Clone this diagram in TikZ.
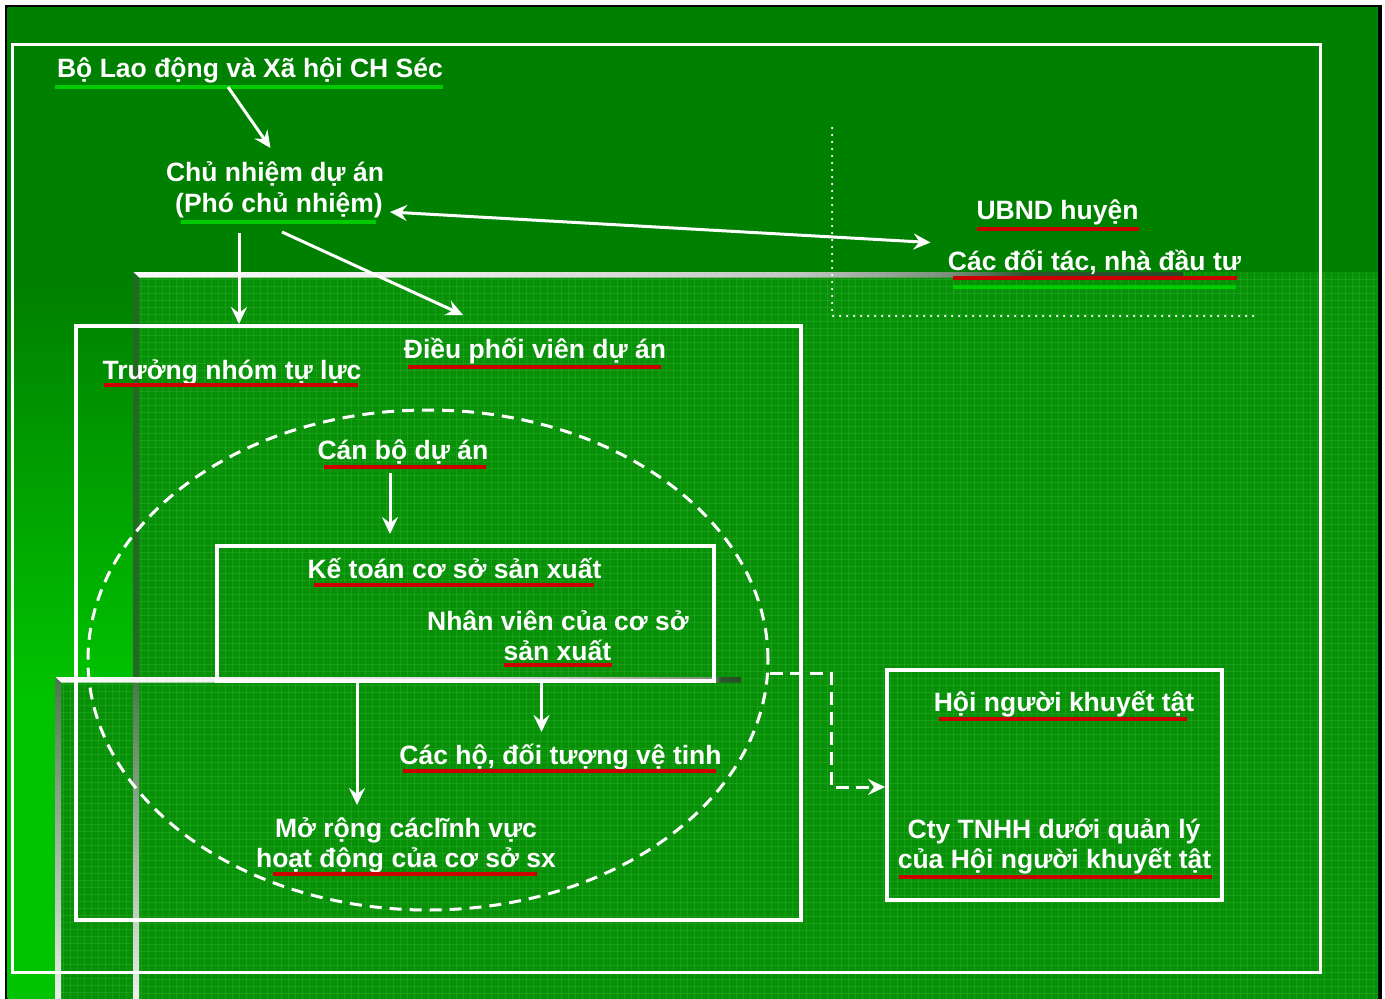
\documentclass[tikz,border=0pt]{standalone}
\usepackage{fontspec}
\setmainfont{Liberation Sans}
\usetikzlibrary{arrows.meta,shapes.geometric,calc}
\definecolor{bgtop}{RGB}{0,128,0}
\definecolor{bgbot}{RGB}{0,196,0}
\definecolor{texfill}{RGB}{8,144,8}
\definecolor{texline}{RGB}{50,185,50}
\definecolor{ulred}{RGB}{204,0,0}
\definecolor{ulgreen}{RGB}{0,204,0}
\definecolor{edgeone}{RGB}{35,105,35}
\definecolor{edgetop}{RGB}{75,120,75}
\definecolor{edgebot}{RGB}{235,240,235}
\definecolor{bwa}{RGB}{250,250,250}
\definecolor{bwb}{RGB}{235,236,235}
\definecolor{bwc}{RGB}{195,200,195}
\definecolor{bwd}{RGB}{120,140,120}
\definecolor{bwe}{RGB}{45,85,45}
\definecolor{bwf}{RGB}{38,78,38}
\pgfdeclareverticalshading{bgshade}{100bp}{color(0bp)=(bgbot); color(25bp)=(bgbot); color(40bp)=(bgbot); color(61bp)=(bgtop); color(75bp)=(bgtop); color(100bp)=(bgtop)}
\pgfdeclarehorizontalshading{bandone}{100bp}{color(0bp)=(bwa); color(25bp)=(bwa); color(40bp)=(bwb); color(56.5bp)=(bwc); color(64bp)=(bwd); color(67.5bp)=(bwe); color(75bp)=(bwf); color(100bp)=(bwf)}
\pgfdeclarehorizontalshading{bandtwo}{100bp}{color(0bp)=(bwa); color(25bp)=(bwa); color(45bp)=(bwb); color(62.5bp)=(bwc); color(73bp)=(bwd); color(73.5bp)=(bwe); color(75bp)=(bwf); color(100bp)=(bwf)}
\begin{document}
\begin{tikzpicture}[x=1pt,y=-1pt,
  txt/.style={text=white, font=\bfseries\fontsize{26.5}{31}\selectfont, inner sep=0pt, anchor=base},
  boxnode/.style={draw=white, line width=4pt, inner sep=0pt},
  ellnode/.style={draw=white, line width=3pt, ellipse, inner sep=0pt, dash pattern=on 12pt off 8pt},
  arr/.style={draw=white, line width=3pt, -{Stealth[length=17pt,width=16pt,inset=6pt]}},
  darr/.style={draw=white, line width=3pt, {Stealth[length=17pt,width=16pt,inset=6pt]}-{Stealth[length=17pt,width=16pt,inset=6pt]}},
  dasharr/.style={draw=white, line width=3pt, dash pattern=on 13pt off 7pt, -{Stealth[length=17pt,width=16pt,inset=6pt]}},
  dotline/.style={draw=white, line width=2.5pt, line cap=round, dash pattern=on 0pt off 7pt},
  ulr/.style={draw=ulred, line width=4pt},
  ulg/.style={draw=ulgreen, line width=4pt},
  texl/.style={draw=texline, line width=0.8pt, opacity=0.35}]
\useasboundingbox (0,0) rectangle (1385,999);
% background
\fill[white] (0,0) rectangle (1385,999);
\fill[black] (5,5) rectangle (1382,999);
\shade[shading=bgshade] (7.5,7.5) rectangle (1378,999);
% textured regions
\fill[texfill] (133,272) rectangle (1378,999);
\fill[texfill] (55,677) rectangle (133,999);
\foreach \x in {141,148,...,1377} \draw[texl] (\x,272) -- (\x,999);
\foreach \y in {279,286,...,998} \draw[texl] (139,\y) -- (1378,\y);
\foreach \x in {63,70,...,133} \draw[texl] (\x,682) -- (\x,999);
\foreach \y in {684,691,...,998} \draw[texl] (61,\y) -- (133,\y);
% bevel bands
\shade[shading=bandone] (133,272) -- (1183,272) -- (1183,277.5) -- (139,277.5) -- cycle;
\fill[edgeone] (133,272) -- (139,277.5) -- (139,677) -- (133,677) -- cycle;
\shade[top color=edgetop, bottom color=edgebot] (133,682) rectangle (139,999);
\shade[shading=bandtwo] (55,677) -- (741,677) -- (741,682.5) -- (61,682.5) -- cycle;
\shade[top color=edgetop, bottom color=edgebot] (55,677) -- (61,682.5) -- (61,999) -- (55,999) -- cycle;
% outer frame
\node[draw=white, line width=3pt, inner sep=0pt, minimum width=1308pt, minimum height=928pt] (frame) at (666,508.5) {};
% dotted corner
\coordinate (dotT) at (832,128);
\coordinate (dotC) at (832,316);
\coordinate (dotR) at (1254,316);
\draw[dotline] (dotT) -- (dotC) -- (dotR);
% boxes and ellipse
\node[boxnode, minimum width=725pt, minimum height=594pt] (boxA) at (438.5,623) {};
\node[ellnode, minimum width=680pt, minimum height=500pt] (ell) at (428,660) {};
\node[boxnode, minimum width=497pt, minimum height=135pt] (boxB) at (465.5,613.5) {};
\node[boxnode, minimum width=335pt, minimum height=230pt] (boxC) at (1054.5,785) {};
% texts
\node[txt] (bo) at (250,77) {Bộ Lao động và Xã hội CH Séc};
\node[txt] (chu1) at (275,181) {Chủ nhiệm dự án};
\node[txt] (chu2) at (279,212) {(Phó chủ nhiệm)};
\node[txt] (ubnd) at (1057.5,219) {UBND huyện};
\node[txt] (doitac) at (1094.5,270) {Các đối tác, nhà đầu tư};
\node[txt] (truong) at (232,379) {Trưởng nhóm tự lực};
\node[txt] (dieu) at (535,358) {Điều phối viên dự án};
\node[txt] (canbo) at (403,459) {Cán bộ dự án};
\node[txt] (ketoan) at (454.5,578) {Kế toán cơ sở sản xuất};
\node[txt] (nv1) at (558,630) {Nhân viên của cơ sở};
\node[txt] (nv2) at (557.5,660) {sản xuất};
\node[txt] (cacho) at (560.5,764) {Các hộ, đối tượng vệ tinh};
\node[txt] (mo1) at (406,837) {Mở rộng cáclĩnh vực};
\node[txt] (mo2) at (406,867) {hoạt động của cơ sở sx};
\node[txt] (hoi) at (1064,711) {Hội người khuyết tật};
\node[txt] (cty1) at (1054,838) {Cty TNHH dưới quản lý};
\node[txt] (cty2) at (1054.5,868) {của Hội người khuyết tật};
% underlines
\draw[ulg] (55,86.5) -- (443,86.5);
\draw[ulg] (181,221.5) -- (376,221.5);
\draw[ulr] (977,228.5) -- (1139,228.5);
\draw[ulr] (953,278) -- (1237,278);
\draw[ulg] (953,287) -- (1236,287);
\draw[ulr] (104,385) -- (358,385);
\draw[ulr] (408,367) -- (661,367);
\draw[ulr] (324,466.5) -- (486,466.5);
\draw[ulr] (314,585) -- (594,585);
\draw[ulr] (504,665) -- (612,665);
\draw[ulr] (403,771) -- (716,771);
\draw[ulr] (273,873.5) -- (537,873.5);
\draw[ulr] (939,719) -- (1187,719);
\draw[ulr] (899,877) -- (1212,877);
% connectors
\draw[arr] ([shift={(-22,10)}]bo.base) -- ([shift={(-4.5,-33)}]chu1.base);
\draw[darr] ([shift={(111,0)}]chu2.base) -- ([shift={(-164,-27.5)}]doitac.base);
\coordinate (a3s) at ([shift={(-40,21)}]chu2.base);
\draw[arr] (a3s) -- (a3s |- boxA.north);
\draw[arr] ([shift={(3,20)}]chu2.base) -- ([shift={(-72,-43)}]dieu.base);
\coordinate (a5s) at ([shift={(-13,14)}]canbo.base);
\draw[arr, shorten >=10pt] (a5s) -- (a5s |- boxB.north);
\draw[arr] ([shift={(76,0)}]boxB.south) -- ([shift={(-19,-32)}]cacho.base);
\draw[arr] ([shift={(-108.5,0)}]boxB.south) -- ([shift={(-49,-32)}]mo1.base);
\draw[dasharr] ([shift={(0,13)}]ell.east) -- ++(61.5,0) |- ([shift={(0,2)}]boxC.west);
\end{tikzpicture}
\end{document}
